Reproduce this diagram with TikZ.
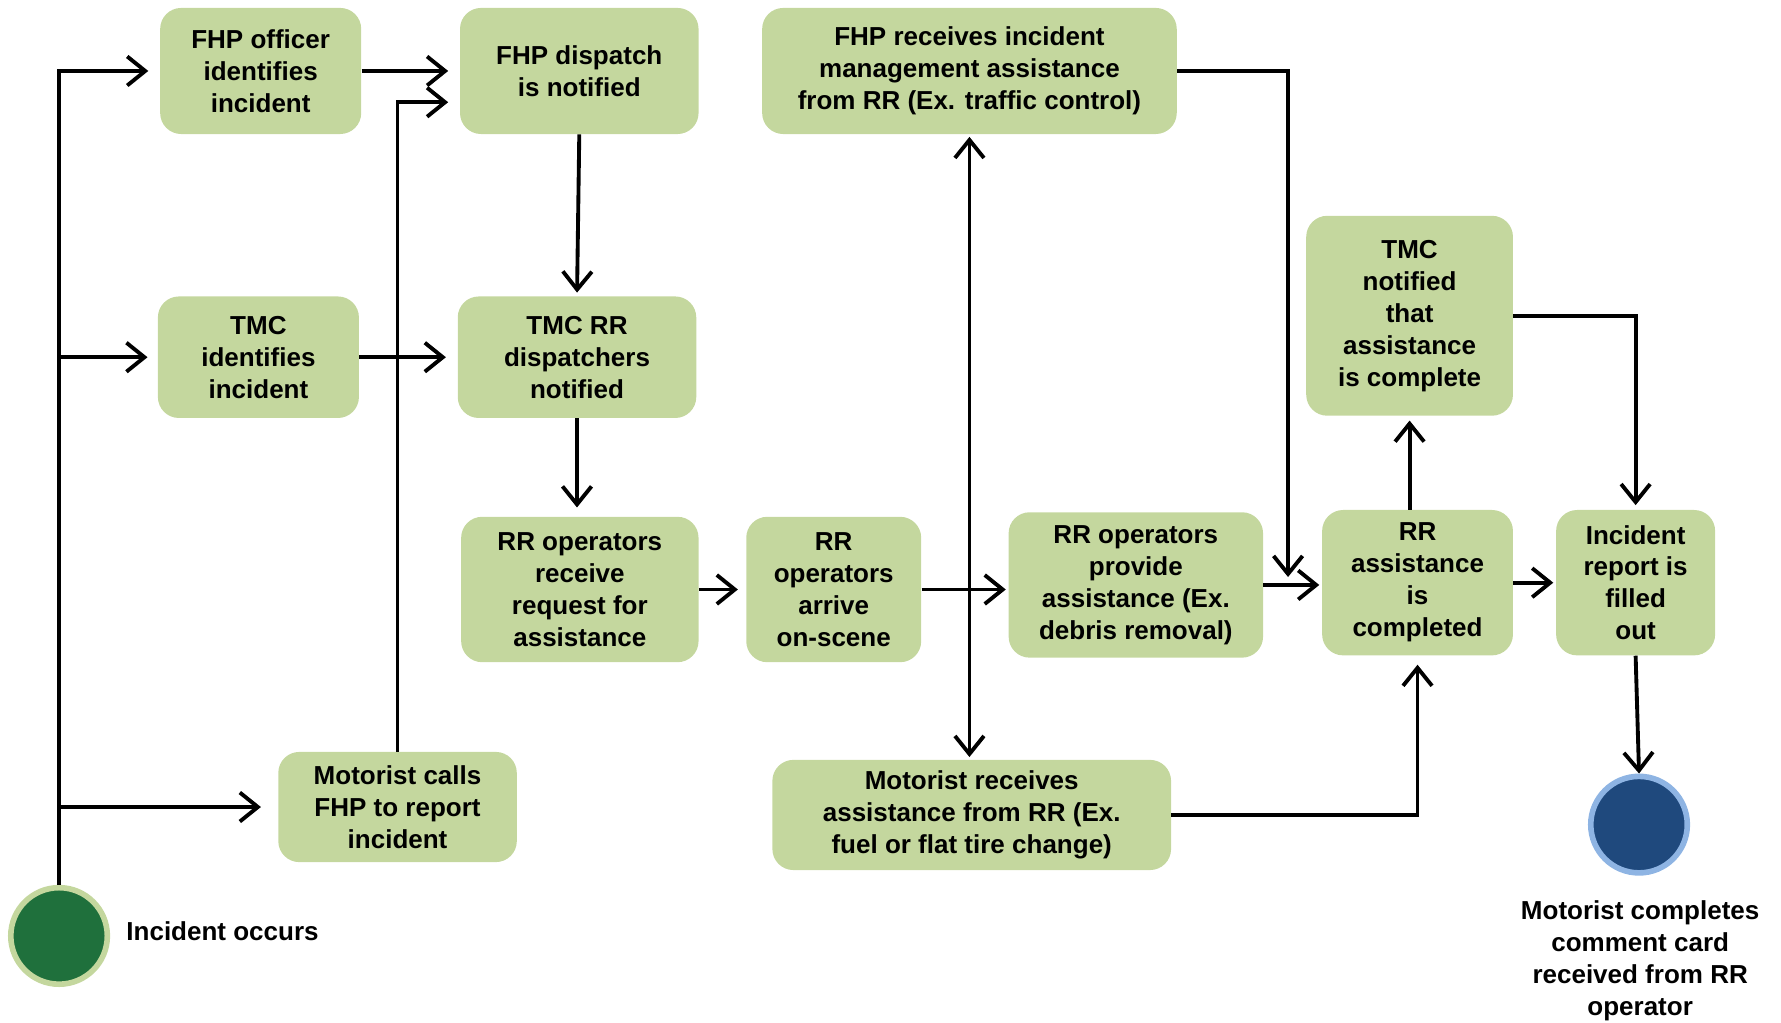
\documentclass[tikz,border=0pt]{standalone}
\usepackage{fontspec}
\setmainfont{Liberation Sans}
\usetikzlibrary{arrows.meta,positioning,calc}
\definecolor{boxgreen}{RGB}{196,215,158}
\definecolor{startgreen}{RGB}{31,112,60}
\definecolor{enddark}{RGB}{31,73,125}
\definecolor{endlight}{RGB}{142,180,227}
\newcommand{\unitpx}{0.022716cm}
\tikzset{
  activity/.style={
    rectangle, rounded corners=0.42cm, fill=boxgreen, draw=none,
    inner sep=0pt, align=center,
    font=\fontsize{14.8}{18.2}\selectfont\bfseries
  },
  boxsize/.style 2 args={
    minimum width={#1*\unitpx}, minimum height={#2*\unitpx}
  },
  startnode/.style={
    circle, fill=startgreen, draw=boxgreen, line width=3.2pt,
    minimum size={85*\unitpx}, inner sep=0pt
  },
  finishnode/.style={
    circle, fill=enddark, draw=endlight, line width=3.2pt,
    minimum size={85*\unitpx}, inner sep=0pt
  },
  caption/.style={
    inner sep=0pt, align=center,
    font=\fontsize{14.8}{18.2}\selectfont\bfseries
  },
  arrow/.style={-{Straight Barb[length=0.36cm,width=0.58cm]}, line width=2.2pt},
  twoway/.style={{Straight Barb[length=0.36cm,width=0.58cm]}-{Straight Barb[length=0.36cm,width=0.58cm]}, line width=2.2pt}
}

\begin{document}
\begin{tikzpicture}[x=\unitpx, y=-\unitpx]
  \useasboundingbox (0,0) rectangle (1568,900);

  % Start and end points
  \node[startnode] (start) at (52,824) {};
  \node[caption, anchor=west] (startlbl) at (111,820) {Incident occurs};
  \node[finishnode] (finish) at (1443,726) {};
  \node[caption] (finishlbl) at (1444,846) {Motorist completes\\comment card\\received from RR\\operator};

  % Top row
  \node[activity, boxsize={177}{111}] (offc) at (229.5,62.5) {FHP officer\\identifies\\incident};
  \node[activity, boxsize={210}{111}] (disp) at (510,62.5) {FHP dispatch\\is notified};
  \node[activity, boxsize={365}{111}] (recv) at (853.5,62.5) {FHP receives incident\\management assistance\\from RR (Ex. traffic control)};
  \node[activity, boxsize={182}{176}] (tmcn) at (1241,278) {TMC\\notified\\that\\assistance\\is complete};

  % Second row
  \node[activity, boxsize={177}{107}] (tmci) at (227.5,314.5) {TMC\\identifies\\incident};
  \node[activity, boxsize={210}{107}] (tmcrr) at (508,314.5) {TMC RR\\dispatchers\\notified};

  % Operator row
  \node[activity, boxsize={209}{128}] (rreq) at (510.5,519) {RR operators\\receive\\request for\\assistance};
  \node[activity, boxsize={154}{128}] (arrv) at (734,519) {RR\\operators\\arrive\\on-scene};
  \node[activity, boxsize={224}{128}] (prov) at (1000,515) {RR operators\\provide\\assistance (Ex.\\debris removal)};
  \node[activity, boxsize={168}{128}] (done) at (1248,513) {RR\\assistance\\is\\completed};
  \node[activity, boxsize={140}{128}] (rept) at (1440,513) {Incident\\report is\\filled\\out};

  % Motorist row
  \node[activity, boxsize={210}{97}] (call) at (350,710.5) {Motorist calls\\FHP to report\\incident};
  \node[activity, boxsize={351}{97}] (mrcv) at (855.5,717.5) {Motorist receives\\assistance from RR (Ex.\\fuel or flat tire change)};

  % Incident branches
  \draw[arrow, shorten >=0.23cm] (start.north) |- (offc.west);
  \draw[arrow, shorten >=0.2cm] (start.north) |- (tmci.west);
  \draw[arrow, shorten >=0.34cm] (start.north) |- (call.west);

  % Notification paths
  \draw[arrow, shorten >=0.23cm] (offc.east) -- (disp.west);
  \draw[arrow, shorten >=0.23cm] (call.north) |- ($(disp.west)+(0,27.5)$);
  \draw[arrow, shorten >=0.23cm] (tmci.east) -- (tmcrr.west);
  \draw[arrow, shorten >=0.07cm] (disp.south) -- (tmcrr.north);
  \draw[arrow, shorten >=0.18cm] (tmcrr.south) -- (tmcrr.south |- rreq.north);

  % Operator sequence
  \draw[arrow, shorten >=0.16cm] (rreq.east) -- (rreq.east -| arrv.west);
  \draw[arrow, shorten >=0.05cm] (arrv.east) -- (arrv.east -| prov.west);
  \draw[twoway, shorten <=0.05cm, shorten >=0.05cm] (recv.south) -- (recv.south |- mrcv.north);
  \coordinate (drop) at (1134,508);
  \draw[arrow] (recv.east) -| (drop);
  \draw[arrow, shorten >=0.05cm] (prov.east) -- (prov.east -| done.west);
  \draw[arrow, shorten >=0.18cm] (mrcv.east) -| (done.south);

  % Completion
  \draw[arrow, shorten >=0.09cm] (tmcn.south |- done.north) -- (tmcn.south);
  \draw[arrow, shorten >=0.09cm] (tmcn.east) -| (rept.north);
  \draw[arrow, shorten >=0.05cm] (done.east) -- (rept.west);
  \draw[arrow] (rept.south) -- (finish.north);

\end{tikzpicture}
\end{document}
